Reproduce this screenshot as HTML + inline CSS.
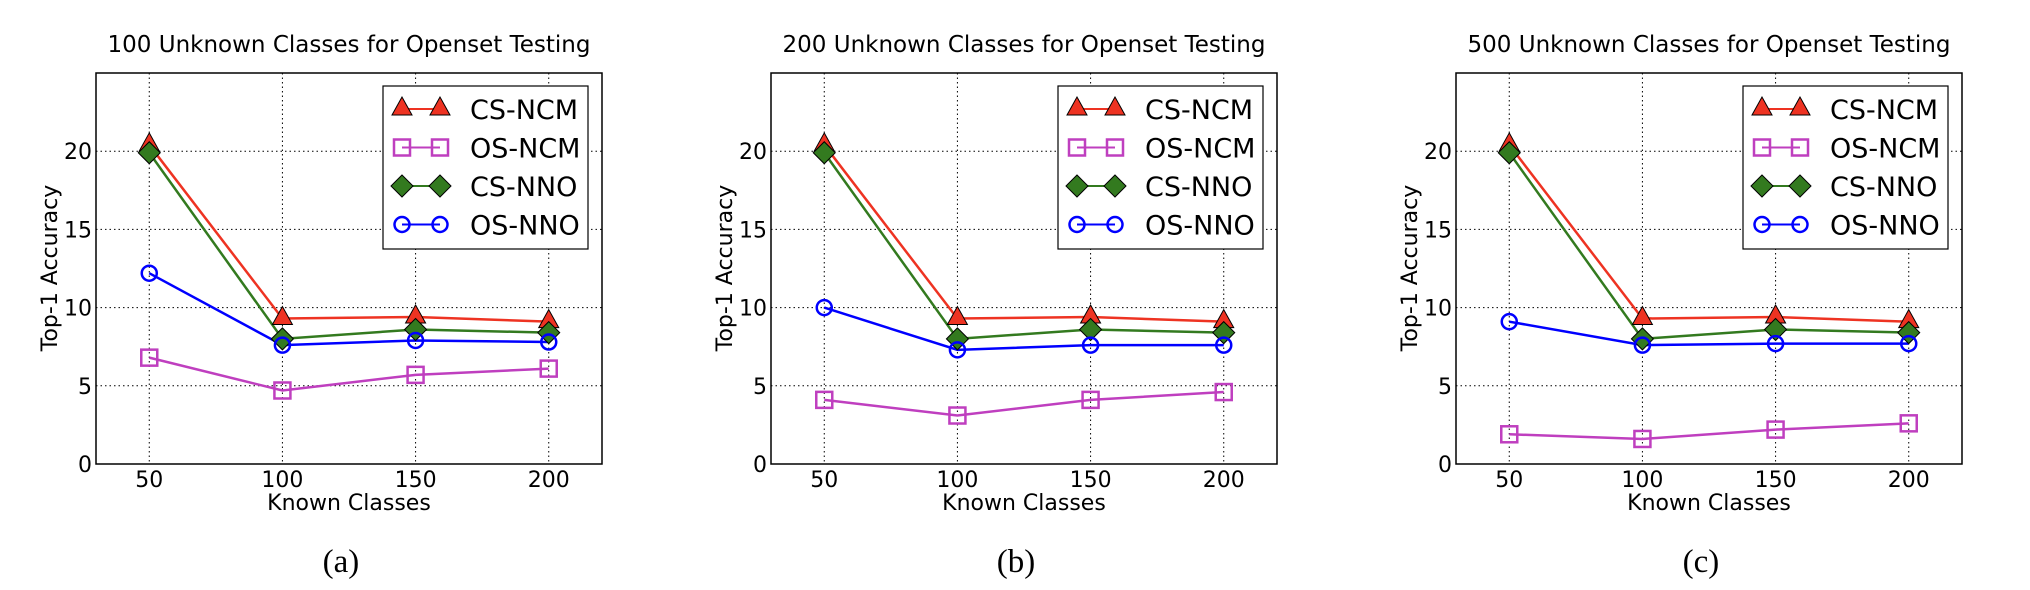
<!DOCTYPE html>
<html><head><meta charset="utf-8"><style>
html,body{margin:0;padding:0;background:#fff;}
svg{display:block;}
text{font-family:"DejaVu Sans","Liberation Sans",sans-serif;fill:#000;}
</style></head>
<body>
<svg id="chart" width="2030" height="590" viewBox="0 0 2030 590" xmlns="http://www.w3.org/2000/svg"></svg>
<script>
const categories = [50, 100, 150, 200];
const yTicks = [0, 5, 10, 15, 20];
const panelTitles = ["100 Unknown Classes for Openset Testing", "200 Unknown Classes for Openset Testing", "500 Unknown Classes for Openset Testing"];
const panelLetters = ["(a)", "(b)", "(c)"];
const seriesNames = ["CS-NCM", "OS-NCM", "CS-NNO", "OS-NNO"];
const csNcmA = [20.4, 9.3, 9.4, 9.1];
const osNcmA = [6.8, 4.7, 5.7, 6.1];
const csNnoA = [19.9, 8.0, 8.6, 8.4];
const osNnoA = [12.2, 7.6, 7.9, 7.8];
const csNcmB = [20.4, 9.3, 9.4, 9.1];
const osNcmB = [4.1, 3.1, 4.1, 4.6];
const csNnoB = [19.9, 8.0, 8.6, 8.4];
const osNnoB = [10.0, 7.3, 7.6, 7.6];
const csNcmC = [20.4, 9.3, 9.4, 9.1];
const osNcmC = [1.9, 1.6, 2.2, 2.6];
const csNnoC = [19.9, 8.0, 8.6, 8.4];
const osNnoC = [9.1, 7.6, 7.7, 7.7];

const NS = "http://www.w3.org/2000/svg";
const svg = document.getElementById("chart");
function mk(tag, attrs, parent) {
  const e = document.createElementNS(NS, tag);
  for (const k in attrs) e.setAttribute(k, attrs[k]);
  (parent || svg).appendChild(e);
  return e;
}
const colors = ["#ee3322", "#bf3fbf", "#337a1f", "#0000ff"];
const panelLefts = [96, 771, 1456];
const W = 506, TOP = 73, BOT = 464;
const xMin = 30, xMax = 220, yMin = 0, yMax = 25;

function marker(g, type, cx, cy, col) {
  if (type === 0) {
    mk("polygon", {points: `${cx},${cy-12} ${cx-10},${cy+6} ${cx+10},${cy+6}`, fill: col, stroke: "#000", "stroke-width": 1}, g);
  } else if (type === 1) {
    mk("rect", {x: cx-8, y: cy-8, width: 16, height: 16, fill: "none", stroke: col, "stroke-width": 2.5}, g);
  } else if (type === 2) {
    mk("polygon", {points: `${cx},${cy-11} ${cx+11},${cy} ${cx},${cy+11} ${cx-11},${cy}`, fill: col, stroke: "#000", "stroke-width": 1}, g);
  } else {
    mk("circle", {cx: cx, cy: cy, r: 7.5, fill: "none", stroke: col, "stroke-width": 2.5}, g);
  }
}

const panelData = [[csNcmA, osNcmA, csNnoA, osNnoA], [csNcmB, osNcmB, csNnoB, osNnoB], [csNcmC, osNcmC, csNnoC, osNnoC]];

panelData.forEach((series, p) => {
  const L = panelLefts[p], R = L + W;
  const xs = v => L + (v - xMin) / (xMax - xMin) * W;
  const ys = v => BOT - (v - yMin) / (yMax - yMin) * (BOT - TOP);
  const g = mk("g", {});
  
  

  const t = mk("text", {x: (L + R) / 2, y: 52, "text-anchor": "middle", "font-size": 23}, g);
  t.textContent = panelTitles[p];
  
  

  categories.forEach(c => {
    mk("line", {x1: xs(c), x2: xs(c), y1: TOP, y2: BOT, stroke: "#000", "stroke-width": 1, "stroke-dasharray": "1.5,3"}, g);
  });
  yTicks.forEach(v => {
    if (v > 0) mk("line", {x1: L, x2: R, y1: ys(v), y2: ys(v), stroke: "#000", "stroke-width": 1, "stroke-dasharray": "1.5,3"}, g);
    const tl = mk("text", {x: L - 4, y: ys(v) + 8, "text-anchor": "end", "font-size": 22}, g);
    tl.textContent = v;
    
    
  });
  categories.forEach(c => {
    const tl = mk("text", {x: xs(c), y: 487, "text-anchor": "middle", "font-size": 22}, g);
    tl.textContent = c;
    
    
  });

  series.forEach((vals, s) => {
    const sg = mk("g", {}, g);
    
    
    mk("polyline", {points: vals.map((v, i) => xs(categories[i]) + "," + ys(v)).join(" "), fill: "none", stroke: colors[s], "stroke-width": 2.5}, sg);
  });
  series.forEach((vals, s) => {
    const mg = mk("g", {}, g);
    
    
    vals.forEach((v, i) => marker(mg, s, xs(categories[i]), ys(v), colors[s]));
  });

  const fr = mk("rect", {x: L, y: TOP, width: W, height: BOT - TOP, fill: "none", stroke: "#000", "stroke-width": 1.5}, g);
  
  

  const lg = mk("g", {}, g);
  
  
  const lx = L + 287, ly = 86;
  mk("rect", {x: lx, y: ly, width: 205, height: 163, fill: "#fff", stroke: "#000", "stroke-width": 1.2}, lg);
  seriesNames.forEach((n, s) => {
    const ry = ly + 23 + s * 38.5;
    const eg = mk("g", {}, lg);
    
    
    mk("line", {x1: lx + 19, x2: lx + 57, y1: ry, y2: ry, stroke: colors[s], "stroke-width": 2}, eg);
    marker(eg, s, lx + 19, ry, colors[s]);
    marker(eg, s, lx + 57, ry, colors[s]);
    const tx = mk("text", {x: lx + 87, y: ry + 10, "font-size": 27}, eg);
    tx.textContent = n;
  });

  const xl = mk("text", {x: (L + R) / 2, y: 510, "text-anchor": "middle", "font-size": 22}, g);
  xl.textContent = "Known Classes";
  
  

  const yl = mk("text", {x: 0, y: 0, "text-anchor": "middle", "font-size": 22, transform: `translate(${L - 39},268) rotate(-90)`}, g);
  yl.textContent = "Top-1 Accuracy";
  
  

  const pl = mk("text", {x: (L + R) / 2 - 8, y: 572, "text-anchor": "middle", "font-size": 33, style: "font-family:'Liberation Serif',serif"}, g);
  pl.textContent = panelLetters[p];
  
  
});
</script>
</body></html>
